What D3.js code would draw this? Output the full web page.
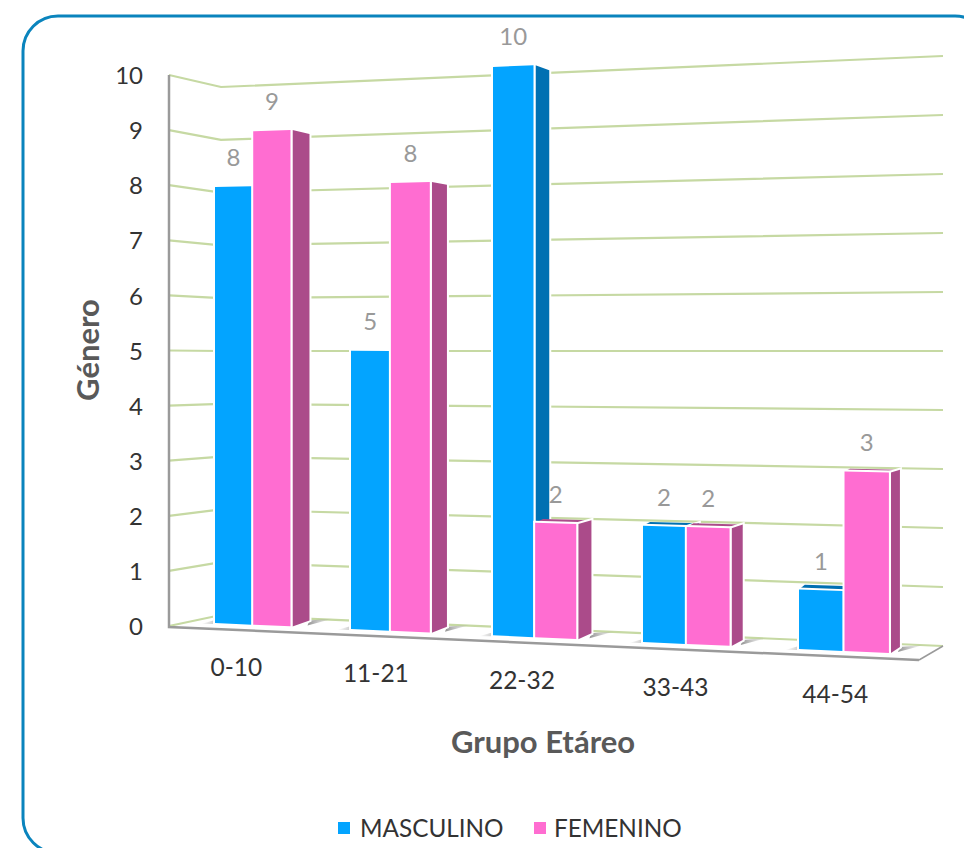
<!DOCTYPE html>
<html><head><meta charset="utf-8">
<script src="https://cdn.jsdelivr.net/npm/d3@7"></script>
<style>html,body{margin:0;padding:0;background:#fff;overflow:hidden}svg{display:block}text{font-family:Lato,"Open Sans",sans-serif}</style>
</head><body><svg id="c" width="964" height="848"></svg>
<script>
const categories = ["0-10","11-21","22-32","33-43","44-54"];
const masculino = [8,5,10,2,1];
const femenino = [9,8,2,2,3];
const seriesNames = ["MASCULINO","FEMENINO"];
const yTicks = [0,1,2,3,4,5,6,7,8,9,10];

const svg = d3.select("#c");
const BLUE="#03a4ff", PINK="#ff6dd1", BLUE_D="#0070b2", PINK_D="#ab4b8a";
const GRID="#c6d9a3", AXIS="#9a9a9a";

// perspective scales
const xCat = d3.scaleLinear().domain([0,1,2,3,4,5]).range([215,351,493,643,799,961]);
const yBase = d3.scaleLinear().domain([215,890]).range([623,653]);
const unit = d3.scaleLinear().domain([215,867]).range([54.5,60]);
const depthX = d3.scaleLinear().domain([292,892]).range([17,9]);
const depthY = d3.scaleLinear().domain([0,10]).range([-6,5]);
const proj = (x,v)=>yBase(x)-v*unit(x);
const wallY = d3.scaleLinear().domain([0,10]).range([626,75]);
const backLeftY = d3.scaleLinear().domain([0,10]).range([615,87]);
const backRightY = d3.scaleLinear().domain([0,10]).range([646,56]);
const line = d3.line();

// card
svg.append("rect").attr("x",23).attr("y",16).attr("width",967).attr("height",837).attr("rx",35)
   .attr("fill","#fff").attr("stroke","#0a84bd").attr("stroke-width",3);

// floor
const defs = svg.append("defs");
const grad = defs.append("linearGradient").attr("id","sh");
grad.append("stop").attr("offset",0).attr("stop-color","#777").attr("stop-opacity",.8);
grad.append("stop").attr("offset",1).attr("stop-color","#999").attr("stop-opacity",0);
const gradL = defs.append("linearGradient").attr("id","shL");
gradL.append("stop").attr("offset",0).attr("stop-color","#999").attr("stop-opacity",0);
gradL.append("stop").attr("offset",1).attr("stop-color","#888").attr("stop-opacity",.45);

// gridlines
svg.append("g").selectAll("path").data(yTicks).join("path")
  .attr("fill","none").attr("stroke",GRID).attr("stroke-width",2.2)
  .attr("d",v=>line([[169,wallY(v)],[221,backLeftY(v)],[943,backRightY(v)]]));

// floor outline and axis
svg.append("path").attr("fill","none").attr("stroke",AXIS).attr("stroke-width",1.5)
   .attr("d",line([[919,660],[943,646]]));
svg.append("path").attr("fill","none").attr("stroke",AXIS).attr("stroke-width",2.5)
   .attr("d",line([[169,75],[169,627],[919,660]]));

const leftAxis = d3.axisLeft(wallY).tickValues(yTicks).tickSize(0).tickPadding(26);
const ag = svg.append("g").attr("transform","translate(169,1)").call(leftAxis);
ag.select(".domain").remove();
ag.selectAll("text").attr("font-size",24).attr("fill","#333").style("font-family",'Lato,"Open Sans",sans-serif');

// bars
const barSpan = [[0,.27],[.281,.555]];
const bars = g => {
  const {i,s,v} = g;
  const x0 = xCat(i+barSpan[s][0]), x1 = xCat(i+barSpan[s][1]);
  return {i,s,v,x0,x1};
};
const barData = [];
categories.forEach((c,i)=>{
  barData.push(bars({i,s:0,v:masculino[i]}));
  barData.push(bars({i,s:1,v:femenino[i]}));
});
const gb = svg.append("g");
barData.forEach(b=>{
  const fill = b.s? PINK:BLUE, dark = b.s? PINK_D:BLUE_D;
  const dx = depthX(b.x1+2);
  const sx = b.x1+2;
  const g = gb.append("g");
  // floor shadow
  const by = yBase(sx);
  if(b.s===1) g.append("path").attr("fill","url(#sh)")
    .attr("d",line([[sx+dx,by-6],[sx+dx+24,by-8],[sx+dx-2,by-1]])+"Z");
  if(b.s===0) g.append("path").attr("fill","url(#shL)")
    .attr("d",line([[b.x0-14,yBase(b.x0)+1],[b.x0,yBase(b.x0)-3],[b.x0,yBase(b.x0)+1]])+"Z");
  // top face
  const dyTop = depthY(b.v);
  if(dyTop<0) g.append("path").attr("fill",dark)
    .attr("d",line([[b.x0,proj(b.x0,b.v)],[b.x1,proj(b.x1,b.v)],[b.x1+dx,proj(b.x1,b.v)+dyTop],[b.x0+dx*.6,proj(b.x0,b.v)+dyTop]])+"Z");
  // side face
  g.append("path").attr("fill",dark).attr("stroke","#fff").attr("stroke-width",4).style("paint-order","stroke")
    .attr("d",line([[sx,proj(sx,b.v)],[sx+dx,proj(sx,b.v)+dyTop],[sx+dx,yBase(sx)+depthY(0)],[sx,yBase(sx)]])+"Z");
  // front face
  g.append("path").attr("fill",fill).attr("stroke","#fff").attr("stroke-width",4).style("paint-order","stroke")
    .attr("d",line([[b.x0,proj(b.x0,b.v)],[b.x1,proj(b.x1,b.v)],[b.x1,yBase(b.x1)],[b.x0,yBase(b.x0)]])+"Z");
});

// data labels
svg.append("g").selectAll("text").data(barData).join("text")
  .attr("x",d=>(d.x0+d.x1)/2)
  .attr("y",d=>proj((d.x0+d.x1)/2,d.v)-29)
  .attr("dy",".35em").attr("text-anchor","middle").attr("font-size",24).attr("fill","#999")
  .text(d=>d.v);

// category labels
svg.append("g").selectAll("text").data(categories).join("text")
  .attr("x",(d,i)=>{const x=xCat(i+.28); return x-depthX(x)*.95;})
  .attr("y",(d,i)=>{const x=xCat(i+.28); return yBase(x-depthX(x)*.95)+43.5;})
  .attr("dy",".35em").attr("text-anchor","middle").attr("font-size",24.5).attr("fill","#333")
  .text(d=>d);

// axis titles
svg.append("text").attr("transform","translate(88,350) rotate(-90)").attr("dy",".35em")
  .attr("text-anchor","middle").attr("font-size",31).attr("font-weight",700).attr("fill","#595959").text("Género");
svg.append("text").attr("x",543).attr("y",742).attr("dy",".35em")
  .attr("text-anchor","middle").attr("font-size",31).attr("font-weight",700).attr("fill","#595959").text("Grupo Etáreo");

// legend
const legX = d3.scaleOrdinal().domain(seriesNames).range([338,534]);
const leg = svg.append("g").selectAll("g").data(seriesNames).join("g")
  .attr("transform",d=>`translate(${legX(d)},0)`);
leg.append("rect").attr("y",822).attr("width",12).attr("height",12)
  .attr("fill",(d,i)=>i?PINK:BLUE);
leg.append("text").attr("x",(d,i)=>i?20:22).attr("y",828).attr("dy",".35em")
  .attr("font-size",24.3).attr("fill","#333").text(d=>d);
</script></body></html>
